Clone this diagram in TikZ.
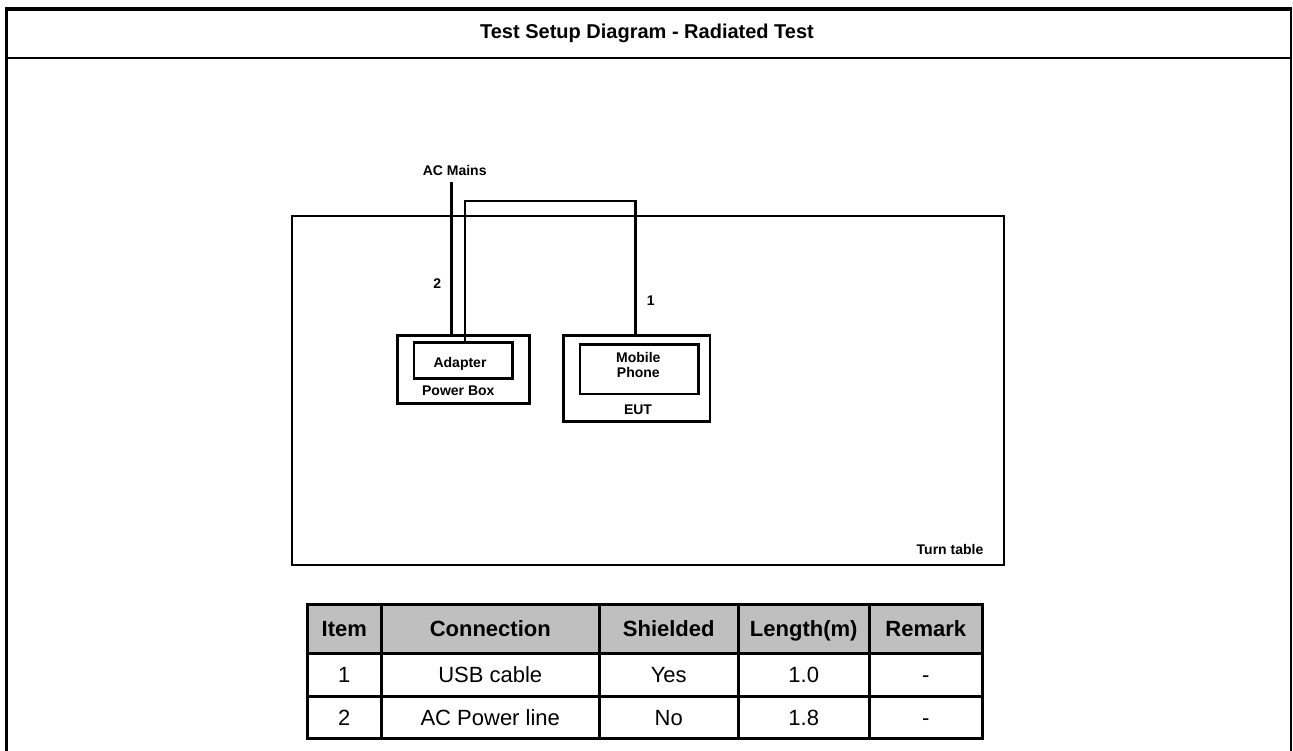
\documentclass[tikz,border=0pt]{standalone}
\usepackage{fontspec}
\setmainfont{Liberation Sans}
\begin{document}
\begin{tikzpicture}[x=1pt,y=-1pt,
  box/.style={draw,line width=2.5pt,inner sep=0pt,anchor=center},
  lbl/.style={font=\bfseries\fontsize{14}{16}\selectfont,inner sep=0pt},
  wire/.style={line width=2.5pt},
  cell/.style={draw,line width=2.5pt,inner sep=0pt,anchor=north west,text height=16pt,text depth=0pt,font=\fontsize{22}{24}\selectfont},
  hcell/.style={cell,fill=black!25,font=\bfseries\fontsize{22}{24}\selectfont}]
\useasboundingbox (0,0) rectangle (1293,751);
% outer frame
\draw[line width=4pt] (5,9.5) -- (1292,9.5);
\draw[line width=3pt] (6.5,7.5) -- (6.5,751);
\draw[line width=2.5pt] (1291,7.5) -- (1291,751);
\draw[line width=2.5pt] (5,58) -- (1292,58);
\node[font=\bfseries\fontsize{20}{24}\selectfont] (title) at (647,33) {Test Setup Diagram - Radiated Test};
% turn table
\node[box,minimum width=712pt,minimum height=349pt] (tt) at (648,390.5) {};
\node[lbl,anchor=east] (ttl) at (983.5,549) {Turn table};
% power box and adapter
\node[box,minimum width=132pt,minimum height=67.6pt] (pbox) at (463.3,369.5) {};
\node[box,minimum width=98.3pt,minimum height=35.6pt] (adapter) at (463.2,360.5) {};
\node[lbl] (adl) at (460,364) {Adapter};
\node[lbl] (pbl) at (458.3,391) {Power Box};
% EUT and phone
\node[box,minimum width=146.7pt,minimum height=86pt] (eut) at (636.7,378.7) {};
\node[box,minimum width=118.3pt,minimum height=49.7pt] (phone) at (639.2,369.2) {};
\node[lbl,align=center,font=\bfseries\fontsize{14}{14.5}\selectfont] (phl) at (638.3,365) {Mobile\\Phone};
\node[lbl] (eutl) at (638,409.5) {EUT};
% wires
\coordinate (acTop) at (451.7,182);
\node[lbl] (acl) at (454.7,170) {AC Mains};
\draw[wire] (acTop) -- (acTop |- pbox.north);
\coordinate (usbL) at (465,201);
\coordinate (usbR) at (635.7,201);
\draw[wire] (adapter.north -| usbL) -- (usbL) -- (usbR) -- (usbR |- eut.north);
\node[lbl] (n2) at (437.3,283.3) {2};
\node[lbl] (n1) at (650.7,301) {1};
% table
\node[hcell,minimum width=74pt,minimum height=49pt] (h1) at (306,603) {Item};
\node[hcell,minimum width=218pt,minimum height=49pt] (h2) at (380,603) {Connection};
\node[hcell,minimum width=139pt,minimum height=49pt] (h3) at (598,603) {Shielded};
\node[hcell,minimum width=131pt,minimum height=49pt] (h4) at (737,603) {Length(m)};
\node[hcell,minimum width=113pt,minimum height=49pt] (h5) at (868,603) {Remark};
\node[cell,minimum width=74pt,minimum height=43pt] (a1) at (306,652) {1};
\node[cell,minimum width=218pt,minimum height=43pt] (a2) at (380,652) {USB cable};
\node[cell,minimum width=139pt,minimum height=43pt] (a3) at (598,652) {Yes};
\node[cell,minimum width=131pt,minimum height=43pt] (a4) at (737,652) {1.0};
\node[cell,minimum width=113pt,minimum height=43pt] (a5) at (868,652) {-};
\node[cell,minimum width=74pt,minimum height=42pt] (b1) at (306,695) {2};
\node[cell,minimum width=218pt,minimum height=42pt] (b2) at (380,695) {AC Power line};
\node[cell,minimum width=139pt,minimum height=42pt] (b3) at (598,695) {No};
\node[cell,minimum width=131pt,minimum height=42pt] (b4) at (737,695) {1.8};
\node[cell,minimum width=113pt,minimum height=42pt] (b5) at (868,695) {-};
\end{tikzpicture}
\end{document}
